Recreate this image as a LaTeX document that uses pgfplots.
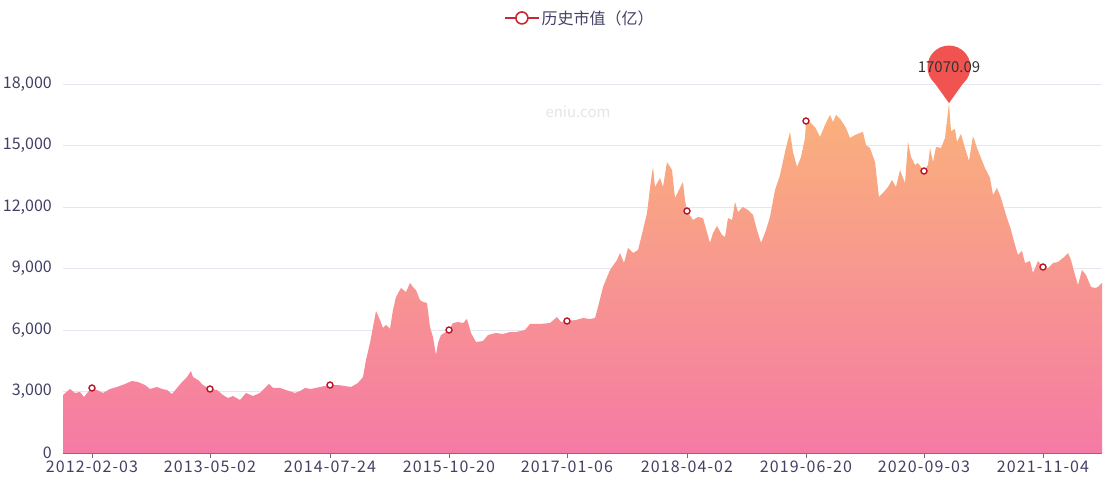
\documentclass[border=0pt]{standalone}
\usepackage{fontspec}
\setmainfont{Noto Sans CJK SC}
\newfontfamily\xlab[LetterSpace=7]{Noto Sans CJK SC}
\usepackage{pgfplots}
\pgfplotsset{compat=1.18}
\usepackage{pgfplotstable}
\definecolor{topc}{RGB}{250,178,122}
\definecolor{botc}{RGB}{245,122,165}
\definecolor{gridc}{RGB}{226,231,241}
\definecolor{axc}{RGB}{110,112,121}
\definecolor{txt}{RGB}{66,64,100}
\definecolor{mred}{RGB}{185,22,40}
\definecolor{legred}{RGB}{200,40,50}
\definecolor{pinc}{RGB}{241,84,80}

\pgfdeclareplotmark{pin}{%
  \pgfpathmoveto{\pgfpointorigin}%
  \pgfpathlineto{\pgfpoint{-17bp}{23.7bp}}%
  \pgfpathlineto{\pgfpoint{17bp}{23.7bp}}%
  \pgfpathclose
  \pgfusepath{fill}%
  \pgfpathcircle{\pgfpoint{0bp}{36bp}}{21.5bp}%
  \pgfusepath{fill}%
}

\pgfplotstableread{
x y
0 2829
7 3122
12 2927
17 2976
21 2732
25 2976
29 3171
34 3073
40 2927
47 3122
54 3220
62 3366
69 3512
75 3463
82 3317
87 3122
94 3220
99 3122
104 3073
109 2878
114 3171
119 3463
124 3707
128 4000
130 3707
135 3561
140 3317
147 3122
154 3073
160 2829
165 2683
170 2780
177 2585
183 2927
190 2780
197 2927
202 3171
206 3366
210 3171
217 3171
223 3073
232 2927
237 3024
242 3171
248 3122
257 3220
267 3317
275 3317
282 3268
288 3220
295 3415
300 3707
303 4537
307 5366
310 6146
313 6927
317 6488
320 6098
323 6244
327 6049
330 6976
333 7610
338 8049
343 7854
347 8293
350 8097
353 7951
357 7463
360 7366
364 7317
367 6146
370 5658
373 4780
375 5366
378 5756
386 6000
390 6341
395 6390
400 6341
404 6537
408 5854
413 5415
420 5463
425 5756
433 5854
440 5805
447 5902
453 5902
462 6000
467 6293
477 6293
487 6341
494 6634
498 6390
504 6439
513 6488
520 6585
527 6537
532 6585
535 7122
540 8097
547 8927
554 9415
557 9756
561 9268
565 10000
570 9756
575 9902
580 10878
584 11707
588 13317
590 13951
592 12976
597 13415
600 12976
604 14195
609 13805
612 12439
615 12732
620 13220
622 12341
624 11805
630 11366
635 11512
640 11463
647 10244
650 10732
654 11073
659 10634
662 10537
665 11463
669 11366
672 12244
675 11756
680 12000
685 11854
690 11610
694 10878
698 10244
702 10732
707 11512
712 12829
717 13561
722 14683
727 15659
730 14683
734 13951
738 14439
742 15366
743 16195
747 16146
752 15902
757 15415
762 16000
767 16488
770 16146
773 16488
778 16244
783 15854
787 15366
792 15512
797 15610
800 15659
803 15024
807 14878
812 14195
816 12488
820 12683
825 12976
829 13317
833 12976
837 13805
842 13171
845 15171
848 14439
852 14049
855 14146
861 13756
865 14049
867 14878
870 14195
873 14927
878 14878
882 15366
886 17070.09
888 15707
892 15805
894 15171
898 15561
902 14878
906 14244
910 15463
914 14878
918 14390
922 13902
927 13415
930 12585
934 12927
938 12439
943 11610
948 10878
952 10146
955 9659
959 9854
962 9268
967 9366
970 8780
975 9366
980 9073
985 9024
990 9268
995 9317
1000 9512
1005 9756
1008 9415
1012 8683
1015 8195
1019 8927
1023 8683
1028 8098
1032 8049
1035 8098
1039 8293
}\mcap

\pgfplotstableread{
x y
29 3171
147 3122
267 3317
386 6000
504 6439
624 11805
743 16195
861 13756
980 9073
}\marks

\begin{document}
\begin{tikzpicture}
\useasboundingbox (0,0) rectangle (1108bp,484bp);
\begin{axis}[
  at={(63bp,31bp)}, anchor=south west,
  scale only axis,
  width=1039bp, height=369bp,
  xmin=0, xmax=1039, ymin=0, ymax=18000,
  axis lines*=left,
  axis line style={-},
  x axis line style={draw=axc, line width=0.8bp},
  y axis line style={draw=none},
  ytick={0,3000,6000,9000,12000,15000,18000},
  ytick style={draw=none},
  yticklabel style={inner sep=0pt, xshift=-11bp, text=txt, font=\fontsize{16bp}{18bp}\selectfont,
    /pgf/number format/.cd, 1000 sep={,}, assume math mode=true},
  scaled y ticks=false,
  xtick={29,147,267,386,504,624,743,861,980},
  xticklabels={2012-02-03,2013-05-02,2014-07-24,2015-10-20,2017-01-06,2018-04-02,2019-06-20,2020-09-03,2021-11-04},
  xtick align=outside,
  major tick length=5bp,
  xtick style={draw=axc, line width=0.8bp},
  xticklabel style={inner sep=0pt, yshift=-3bp, anchor=north, text=txt, font=\xlab\fontsize{16bp}{18bp}\selectfont},
  ymajorgrids,
  major grid style={draw=gridc, line width=0.8bp},
  clip=false,
  legend style={at={(0.4975,1.179)}, anchor=center, draw=none, fill=none,
    font=\fontsize{16bp}{18bp}\selectfont, text=txt},
  legend cell align=left,
]
\node[text=black!10, font=\fontsize{15bp}{18bp}\selectfont] at (axis cs:515,16634) {eniu.com};
\addplot[draw=none, top color=topc, bottom color=botc, forget plot] table[x=x,y=y] {\mcap} \closedcycle;
\addplot[only marks, mark=*, mark size=3bp, mark options={fill=white, draw=mred, line width=1.4bp}, forget plot] table[x=x,y=y] {\marks};
\addplot[only marks, mark=pin, color=pinc, forget plot,
  point meta=explicit symbolic, nodes near coords,
  every node near coord/.append style={anchor=center, yshift=36bp, text=black!80, font=\fontsize{15bp}{18bp}\selectfont}]
  coordinates {(886,17070.09) [17070.09]};
\addlegendimage{legend image code/.code={
  \draw[legred, line width=1.6bp] (0bp,0bp) -- (34bp,0bp);
  \draw[legred, line width=1.6bp, fill=white] (17bp,0bp) circle (6bp);}}
\addlegendentry{历史市值（亿）}
\end{axis}
\end{tikzpicture}
\end{document}
